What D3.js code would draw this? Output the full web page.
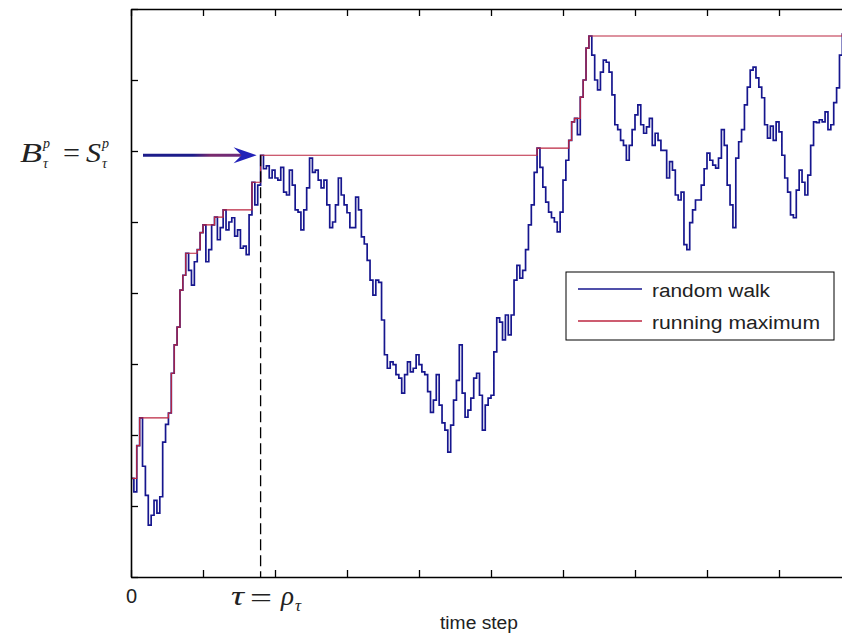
<!DOCTYPE html>
<html>
<head>
<meta charset="utf-8">
<script src="https://cdn.jsdelivr.net/npm/d3@7"></script>
<style>
  html, body { margin: 0; padding: 0; background: #fff; }
  svg { display: block; }
</style>
</head>
<body>
<svg id="chart" width="842" height="635"></svg>
<script>
// Random walk, recorded every `stride` time steps
const stride = 4;
const walk = [
  13.9, 12.0, 18.5, 22.4, 15.6, 11.5, 7.3, 8.7, 10.8, 9.0,
  11.3, 19.0, 21.5, 23.1, 28.7, 32.7, 35.2, 40.4, 42.5, 45.6,
  43.2, 41.1, 44.4, 46.1, 48.5, 49.6, 44.4, 46.1, 49.6, 50.7,
  47.5, 49.2, 51.7, 48.9, 50.0, 50.6, 48.0, 48.9, 46.3, 46.6,
  45.4, 51.0, 55.6, 52.4, 55.2, 59.4,
  57.5, 57.9, 56.2, 57.3, 56.2, 55.9, 57.7, 54.2, 53.8, 57.3,
  55.2, 51.7, 51.4, 48.9, 51.7, 54.8, 59.0, 57.0, 57.3, 55.9,
  54.8, 55.9, 52.4, 49.2, 50.0, 52.4, 56.2, 53.8, 52.4, 51.3,
  49.2, 49.2, 53.5, 51.7, 47.9, 46.9, 44.6, 41.8, 39.7, 41.8,
  41.5, 36.2, 31.3, 29.4, 30.3, 29.9, 28.5, 28.0, 25.9, 28.5,
  30.3, 28.9, 29.4, 31.3,
  29.9, 28.9, 28.5, 26.1, 23.2, 24.9, 28.5, 24.2, 21.7, 20.7,
  17.6, 21.4, 24.9, 27.7, 32.7, 25.9, 22.5, 23.5, 25.2, 28.0,
  28.7, 25.6, 20.7, 24.2, 25.2, 25.6, 31.7, 36.5, 35.9, 33.4,
  36.9, 34.1, 36.9, 41.8, 43.9, 42.1, 43.2, 46.1, 49.6, 52.4,
  57.0, 60.4, 57.7, 54.9, 52.8, 51.4, 50.6, 50.0, 48.6, 51.4,
  55.9, 58.7, 61.5, 64.1, 64.6, 62.3,
  67.6, 70.0, 74.5, 76.2, 73.5, 70.0, 68.6, 71.1, 72.8, 72.5,
  71.1, 67.9, 63.7, 63.0, 61.5, 60.8, 58.7, 60.8, 63.0, 65.1,
  66.5, 63.7, 62.5, 63.4, 64.6, 60.8, 62.5, 61.5, 60.1, 60.1,
  56.2, 58.5, 57.3, 53.8, 53.1, 54.2, 46.8, 46.1, 49.9, 51.7,
  53.1, 53.1, 55.2, 57.5, 59.7,
  58.7, 58.0, 57.6, 59.0, 63.0, 60.8, 55.2, 52.4, 49.2,
  59.0, 61.3, 63.0, 66.5, 69.0, 71.4, 71.8, 70.3, 69.0, 67.5,
  63.7, 61.8, 63.5, 61.5, 64.1, 62.7, 59.4, 56.2, 54.2, 51.0,
  50.6, 54.5, 57.3, 55.6, 53.8, 56.6, 60.8, 64.1, 64.0, 64.4,
  64.1, 65.5, 63.0, 63.7, 66.8, 68.9, 73.5, 76.6
];

// Axis ticks
const xTicks = d3.range(0, 1001, 100);
const yTicks = d3.range(0, 81, 10);
const xLabel = "time step";

// Stopping time marked on the plot
const tau = 180;

const legendLabels = ["random walk", "running maximum"];
const colors = { walk: "#16168e", max: "#bc2640", arrow: "#1c1c8a" };

const svg = d3.select("#chart");
const x = d3.scaleLinear().domain([0, 1000]).range([131, 851]);
const y = d3.scaleLinear().domain([0, 80]).range([577, 9]);

const steps = walk.map((_, i) => i * stride);
const runMax = [];
walk.reduce((m, v) => { const n = Math.max(m, v); runMax.push(n); return n; }, -Infinity);

const defs = svg.append("defs");
defs.append("clipPath").attr("id", "plotArea")
  .append("rect").attr("x", 131).attr("y", 9).attr("width", 720).attr("height", 568);

const plot = svg.append("g").attr("clip-path", "url(#plotArea)");

const line = d3.line()
  .x((d, i) => x(steps[i]))
  .y(d => y(d))
  .curve(d3.curveStepAfter);

// dashed marker at tau
const tauIndex = tau / stride;
const tauVal = walk[tauIndex];
svg.append("line")
  .attr("x1", x(tau)).attr("x2", x(tau))
  .attr("y1", y(tauVal)).attr("y2", y(0))
  .attr("stroke", "#000").attr("stroke-width", 1.3)
  .attr("stroke-dasharray", "11,5");

plot.append("path").datum(walk)
  .attr("d", line)
  .attr("fill", "none")
  .attr("stroke", colors.walk)
  .attr("stroke-width", 1.7);

plot.append("path").datum(runMax)
  .attr("d", line)
  .attr("fill", "none")
  .attr("stroke", colors.max)
  .attr("stroke-width", 1.2);

// axes (ticks point inward)
const axisStyle = g => {
  g.select(".domain").attr("stroke", "#000").attr("stroke-width", 1.6);
  g.selectAll(".tick line").attr("stroke", "#000").attr("stroke-width", 1.3);
  g.selectAll(".tick text").attr("font-family", "Liberation Sans, Arial, sans-serif")
    .attr("font-size", 20).attr("fill", "#222");
};

svg.append("g").attr("transform", "translate(0,577)")
  .call(d3.axisBottom(x).tickValues(xTicks).tickSizeInner(-7).tickSizeOuter(0)
    .tickPadding(12).tickFormat(d => d === 0 ? "0" : ""))
  .call(axisStyle);

svg.append("g").attr("transform", "translate(0,9)")
  .call(d3.axisTop(x).tickValues(xTicks).tickSizeInner(-7).tickSizeOuter(0).tickFormat(""))
  .call(axisStyle);

svg.append("g").attr("transform", "translate(131,0)")
  .call(d3.axisLeft(y).tickValues(yTicks).tickSizeInner(-7).tickSizeOuter(0).tickFormat(""))
  .call(axisStyle);

// x axis title
svg.append("text")
  .attr("x", 440).attr("y", 629)
  .attr("font-family", "Liberation Sans, Arial, sans-serif")
  .attr("font-size", 18).attr("fill", "#222")
  .attr("textLength", 78).attr("lengthAdjust", "spacingAndGlyphs")
  .text(xLabel);

// arrow pointing at the maximum reached at tau
const ay = y(tauVal);
const tipX = x(tau) - 4;
const grad = defs.append("linearGradient")
  .attr("id", "arrowShaft").attr("gradientUnits", "userSpaceOnUse")
  .attr("x1", 143).attr("x2", tipX - 14).attr("y1", 0).attr("y2", 0);
grad.append("stop").attr("offset", "0").attr("stop-color", colors.arrow);
grad.append("stop").attr("offset", "0.5").attr("stop-color", colors.arrow);
grad.append("stop").attr("offset", "0.68").attr("stop-color", "#7a2a6c");
grad.append("stop").attr("offset", "1").attr("stop-color", "#6a2a7c");

svg.append("line")
  .attr("x1", 143).attr("x2", tipX - 14)
  .attr("y1", ay).attr("y2", ay)
  .attr("stroke", "url(#arrowShaft)").attr("stroke-width", 3);
svg.append("path")
  .attr("d", `M${tipX},${ay} L${tipX - 23},${ay - 8} L${tipX - 15},${ay} L${tipX - 23},${ay + 8} Z`)
  .attr("fill", "#2222b8");

// math annotations
const serif = "Liberation Serif, Times New Roman, serif";
function mathText(xp, yp, str, size, italic, len) {
  const t = svg.append("text").attr("x", xp).attr("y", yp)
    .attr("font-family", serif).attr("font-size", size)
    .attr("font-style", italic ? "italic" : "normal")
    .attr("fill", "#222").text(str);
  if (len) t.attr("textLength", len).attr("lengthAdjust", "spacingAndGlyphs");
}
// B^p_tau = S^p_tau
mathText(20, 162, "B", 27, true, 22);
mathText(43, 148, "p", 14, true);
mathText(43, 168, "τ", 14, true);
mathText(63, 162, "=", 27, false, 17);
mathText(86, 162, "S", 27, true, 15);
mathText(102, 148, "p", 14, true);
mathText(102, 168, "τ", 14, true);
// tau = rho_tau
mathText(231, 605, "τ", 28, true, 13);
mathText(250, 607, "=", 28, false, 22);
mathText(281, 605, "ρ", 28, true, 13);
mathText(295, 611, "τ", 17, true);

// legend
const lg = svg.append("g");
lg.append("rect").attr("x", 566).attr("y", 272).attr("width", 268).attr("height", 68)
  .attr("fill", "#fff").attr("stroke", "#000").attr("stroke-width", 1);
const legendColors = [colors.walk, colors.max];
legendLabels.forEach((lab, i) => {
  const ly = 289 + i * 32;
  lg.append("line").attr("x1", 578).attr("x2", 642).attr("y1", ly).attr("y2", ly)
    .attr("stroke", legendColors[i]).attr("stroke-width", 1.3);
  lg.append("text").attr("x", 652).attr("y", ly + 8)
    .attr("font-family", "Liberation Sans, Arial, sans-serif")
    .attr("font-size", 18).attr("fill", "#222")
    .attr("textLength", i === 0 ? 118 : 168).attr("lengthAdjust", "spacingAndGlyphs")
    .text(lab);
});
</script>
</body>
</html>
